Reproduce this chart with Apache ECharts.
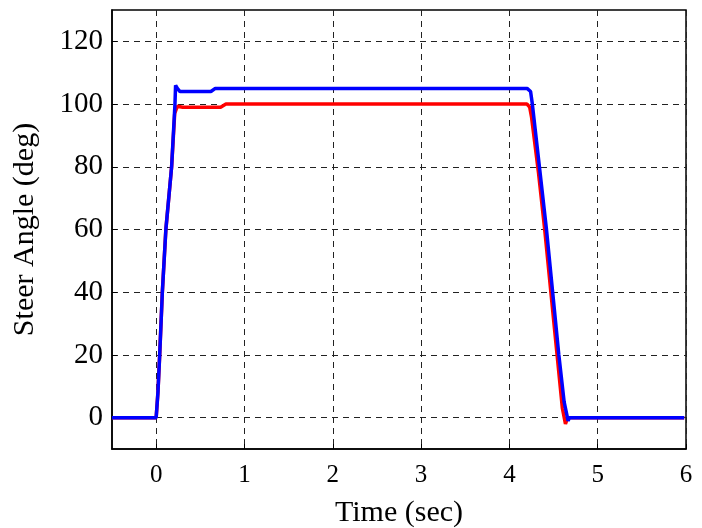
<!DOCTYPE html>
<html><head><meta charset="utf-8">
<script src="https://cdn.jsdelivr.net/npm/echarts@6/dist/echarts.min.js"></script>
<style>html,body{margin:0;padding:0;background:#fff}#c{width:702px;height:528px}</style>
</head><body><div id="c"></div>
<script>
// Data
const xTicks = [0, 1, 2, 3, 4, 5, 6];
const yTicks = [0, 20, 40, 60, 80, 100, 120];
const redTime  = [-0.5, 0.00, 0.02, 0.04, 0.07, 0.11, 0.175, 0.21, 0.24, 0.30, 0.73, 0.79, 4.20, 4.23, 4.25, 4.29, 4.33, 4.40, 4.47, 4.54, 4.60, 4.635, 4.66, 5.98];
const redAngle = [0, 0, 8, 20, 40, 60, 80, 97, 99.3, 99, 99, 100, 100, 99, 96, 87, 78, 60, 40, 20, 3, -2, 0, 0];
const blueTime  = [-0.5, 0.00, 0.02, 0.04, 0.07, 0.11, 0.175, 0.213, 0.22, 0.24, 0.27, 0.62, 0.67, 4.20, 4.24, 4.26, 4.30, 4.34, 4.42, 4.49, 4.56, 4.62, 4.665, 4.68, 5.98];
const blueAngle = [0, 0, 8, 20, 40, 60, 80, 100, 106, 105, 104, 104, 105, 105, 104, 100, 90, 80, 60, 40, 20, 5, -1, 0, 0];

const zip = (a, b) => a.map((v, i) => [v, b[i]]);
const font = '"Liberation Serif", "DejaVu Serif", serif';
const gridLine = { show: true, lineStyle: { color: '#222', type: [6, 5], width: 1 } };

const chart = echarts.init(document.getElementById('c'), null, { renderer: 'canvas' });
chart.setOption({
  animation: false,
  backgroundColor: '#fff',
  grid: { left: 112, right: 16, top: 10, bottom: 79, show: true, borderColor: '#000', borderWidth: 1.5, containLabel: false, outerBoundsMode: 'none' },
  xAxis: {
    type: 'value', min: -0.5, max: 6,
    name: 'Time (sec)', nameLocation: 'middle', nameGap: 49,
    nameTextStyle: { fontFamily: font, fontSize: 30, color: '#000' },
    axisLine: { show: true, onZero: false, lineStyle: { color: '#000', width: 1.5 } },
    axisTick: { show: true, inside: true, length: 5, customValues: xTicks, lineStyle: { color: '#000' } },
    axisLabel: { customValues: xTicks, fontFamily: font, fontSize: 25, color: '#000', margin: 14 },
    splitLine: gridLine
  },
  yAxis: {
    type: 'value', min: -10, max: 130,
    name: 'Steer Angle (deg)', nameLocation: 'middle', nameGap: 72,
    nameTextStyle: { fontFamily: font, fontSize: 30, color: '#000' },
    axisLine: { show: true, onZero: false, lineStyle: { color: '#000', width: 1.5 } },
    axisTick: { show: true, inside: true, length: 5, customValues: yTicks, lineStyle: { color: '#000' } },
    axisLabel: { customValues: yTicks, fontFamily: font, fontSize: 29, color: '#000', margin: 9 },
    splitLine: gridLine
  },
  series: [
    { type: 'line', data: zip(redTime, redAngle), showSymbol: false, lineStyle: { color: '#ff0000', width: 3.5 }, itemStyle: { color: '#ff0000' }, z: 2 },
    { type: 'line', data: zip(blueTime, blueAngle), showSymbol: false, lineStyle: { color: '#0000ff', width: 3.5 }, itemStyle: { color: '#0000ff' }, z: 3 }
  ]
});
</script></body></html>
